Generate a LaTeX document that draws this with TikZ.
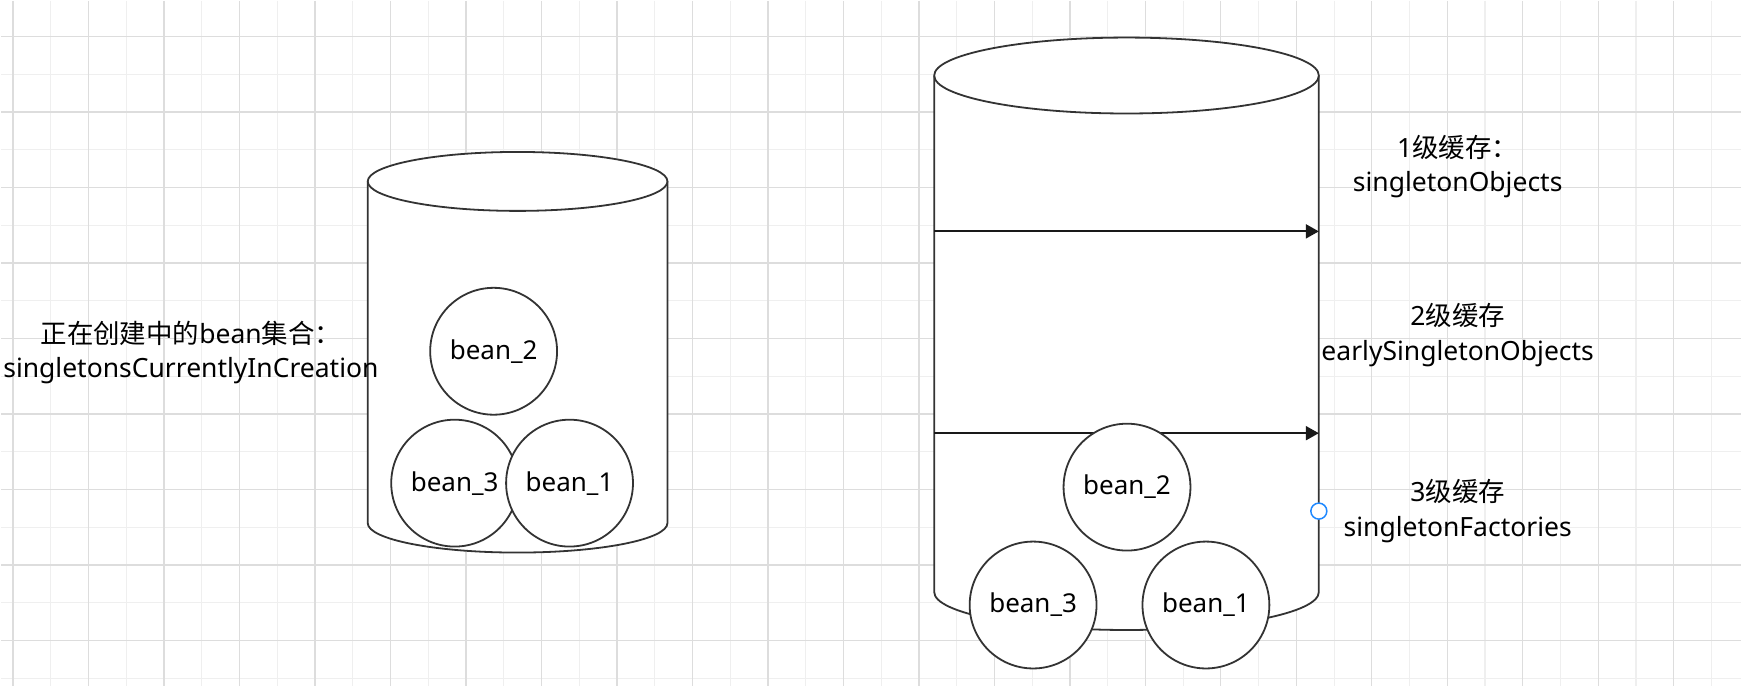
\documentclass[tikz,border=0pt]{standalone}
\usepackage{fontspec}
\setmainfont{Noto Sans}
\newfontfamily\cjk{Noto Sans CJK SC}
\usepackage{tikz}
\usetikzlibrary{arrows.meta}
\definecolor{ink}{HTML}{333333}
\definecolor{gridmajor}{HTML}{DDDDDD}
\definecolor{gridminor}{HTML}{EFEFEF}
\definecolor{hover}{HTML}{1E88FF}

\begin{document}
\begin{tikzpicture}[x=1pt,y=-1pt,
    tank/.style={draw=ink,line width=1.8pt,fill=white},
    bean/.style={circle,draw=ink,line width=1.8pt,fill=white,minimum size=127pt,inner sep=0pt,font=\fontsize{26}{30}\selectfont},
    lbl/.style={align=center,font=\fontsize{26.5}{34.5}\selectfont},
    flow/.style={-{Triangle[length=13pt,width=14pt]},line width=2pt,black!90}]
    \fill[white] (0,0) rectangle (1742,686);
    % grid
    \foreach \i in {1,3,...,45}{\draw[gridminor,line width=1.2pt] (12+37.78*\i,0) -- (12+37.78*\i,686);}
    \foreach \j in {1,3,...,17}{\draw[gridminor,line width=1.2pt] (0,36+37.78*\j) -- (1742,36+37.78*\j);}
    \foreach \i in {0,2,...,44}{\draw[gridmajor,line width=1.2pt] (12+37.78*\i,0) -- (12+37.78*\i,686);}
    \foreach \j in {0,2,...,16}{\draw[gridmajor,line width=1.2pt] (0,36+37.78*\j) -- (1742,36+37.78*\j);}
    % creating set
    \draw[tank] (367,181) -- (367,523) arc[start angle=180,end angle=0,x radius=150,y radius=29.5] -- (667,181);
    \draw[tank] (517,181) ellipse[x radius=150,y radius=29.5];
    \foreach \n/\x/\y in {2/493/351,3/454/483,1/569/483}{\node[bean] (lb\n) at (\x,\y) {bean\_\n};}
    \node[lbl] (inflight) at (190,352) {{\cjk 正在创建中的}bean{\cjk 集合：}\\singletonsCurrentlyInCreation};
    % three caches
    \draw[tank] (934,75) -- (934,592) arc[start angle=180,end angle=0,x radius=192.5,y radius=38] -- (1319,75);
    \draw[tank] (1126.5,75) ellipse[x radius=192.5,y radius=38];
    \coordinate (o1) at (934,231); \coordinate (e1) at (1319,231);
    \coordinate (o2) at (934,433); \coordinate (e2) at (1319,433);
    \draw[flow] (o1) -- (e1);
    \draw[flow] (o2) -- (e2);
    \foreach \n/\x/\y in {2/1127/487,3/1033/605,1/1206/605}{\node[bean] (rb\n) at (\x,\y) {bean\_\n};}
    \node[lbl] (lv1) at (1458,166) {1{\cjk 级缓存：}\\singletonObjects};
    \node[lbl] (lv2) at (1458,335) {2{\cjk 级缓存}\\earlySingletonObjects};
    \node[lbl] (lv3) at (1458,511) {3{\cjk 级缓存}\\singletonFactories};
    \node[circle,draw=hover,fill=white,line width=1.5pt,minimum size=16pt,inner sep=0pt] (port) at (1319,511) {};
\end{tikzpicture}
\end{document}
